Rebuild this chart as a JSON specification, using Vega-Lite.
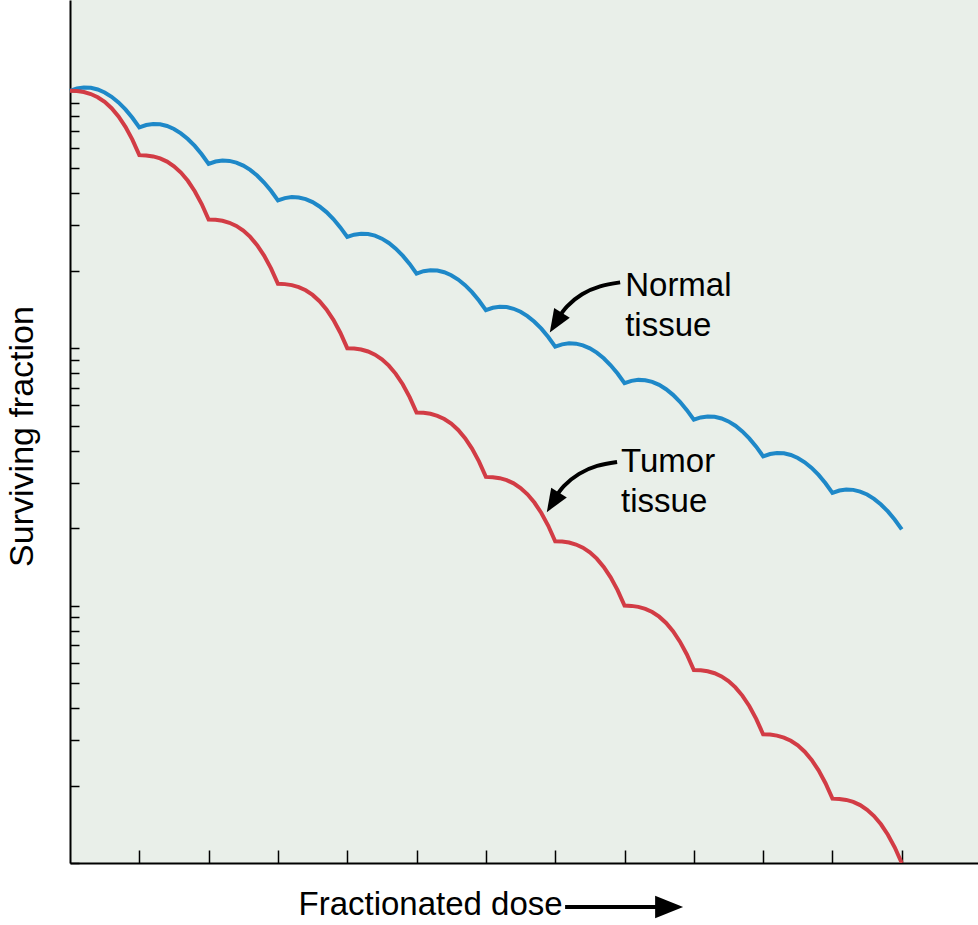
{
  "$schema": "https://vega.github.io/schema/vega-lite/v6.json",
  "width": 908,
  "height": 863,
  "autosize": {"type": "none"},
  "padding": {"left": 70, "top": 0, "right": 0, "bottom": 62},
  "background": "white",
  "config": {
    "view": {"fill": "#e9efe9", "stroke": null},
    "font": "Liberation Sans"
  },
  "datasets": {
    "normal": [
      {"dose":0,"log_sf":0},{"dose":0.1,"log_sf":0.009},{"dose":0.2,"log_sf":0.0129},{"dose":0.3,"log_sf":0.0116},{"dose":0.4,"log_sf":0.0051},{"dose":0.5,"log_sf":-0.0065},{"dose":0.6,"log_sf":-0.0233},{"dose":0.7,"log_sf":-0.0452},{"dose":0.8,"log_sf":-0.0723},{"dose":0.9,"log_sf":-0.1046},
      {"dose":1,"log_sf":-0.142},{"dose":1.1,"log_sf":-0.133},{"dose":1.2,"log_sf":-0.1291},{"dose":1.3,"log_sf":-0.1304},{"dose":1.4,"log_sf":-0.1369},{"dose":1.5,"log_sf":-0.1485},{"dose":1.6,"log_sf":-0.1653},{"dose":1.7,"log_sf":-0.1872},{"dose":1.8,"log_sf":-0.2143},{"dose":1.9,"log_sf":-0.2466},
      {"dose":2,"log_sf":-0.284},{"dose":2.1,"log_sf":-0.275},{"dose":2.2,"log_sf":-0.2711},{"dose":2.3,"log_sf":-0.2724},{"dose":2.4,"log_sf":-0.2789},{"dose":2.5,"log_sf":-0.2905},{"dose":2.6,"log_sf":-0.3073},{"dose":2.7,"log_sf":-0.3292},{"dose":2.8,"log_sf":-0.3563},{"dose":2.9,"log_sf":-0.3886},
      {"dose":3,"log_sf":-0.426},{"dose":3.1,"log_sf":-0.417},{"dose":3.2,"log_sf":-0.4131},{"dose":3.3,"log_sf":-0.4144},{"dose":3.4,"log_sf":-0.4209},{"dose":3.5,"log_sf":-0.4325},{"dose":3.6,"log_sf":-0.4493},{"dose":3.7,"log_sf":-0.4712},{"dose":3.8,"log_sf":-0.4983},{"dose":3.9,"log_sf":-0.5306},
      {"dose":4,"log_sf":-0.568},{"dose":4.1,"log_sf":-0.559},{"dose":4.2,"log_sf":-0.5551},{"dose":4.3,"log_sf":-0.5564},{"dose":4.4,"log_sf":-0.5629},{"dose":4.5,"log_sf":-0.5745},{"dose":4.6,"log_sf":-0.5913},{"dose":4.7,"log_sf":-0.6132},{"dose":4.8,"log_sf":-0.6403},{"dose":4.9,"log_sf":-0.6726},
      {"dose":5,"log_sf":-0.71},{"dose":5.1,"log_sf":-0.701},{"dose":5.2,"log_sf":-0.6971},{"dose":5.3,"log_sf":-0.6984},{"dose":5.4,"log_sf":-0.7049},{"dose":5.5,"log_sf":-0.7165},{"dose":5.6,"log_sf":-0.7333},{"dose":5.7,"log_sf":-0.7552},{"dose":5.8,"log_sf":-0.7823},{"dose":5.9,"log_sf":-0.8146},
      {"dose":6,"log_sf":-0.852},{"dose":6.1,"log_sf":-0.843},{"dose":6.2,"log_sf":-0.8391},{"dose":6.3,"log_sf":-0.8404},{"dose":6.4,"log_sf":-0.8469},{"dose":6.5,"log_sf":-0.8585},{"dose":6.6,"log_sf":-0.8753},{"dose":6.7,"log_sf":-0.8972},{"dose":6.8,"log_sf":-0.9243},{"dose":6.9,"log_sf":-0.9566},
      {"dose":7,"log_sf":-0.994},{"dose":7.1,"log_sf":-0.985},{"dose":7.2,"log_sf":-0.9811},{"dose":7.3,"log_sf":-0.9824},{"dose":7.4,"log_sf":-0.9889},{"dose":7.5,"log_sf":-1.0005},{"dose":7.6,"log_sf":-1.0173},{"dose":7.7,"log_sf":-1.0392},{"dose":7.8,"log_sf":-1.0663},{"dose":7.9,"log_sf":-1.0986},
      {"dose":8,"log_sf":-1.136},{"dose":8.1,"log_sf":-1.127},{"dose":8.2,"log_sf":-1.1231},{"dose":8.3,"log_sf":-1.1244},{"dose":8.4,"log_sf":-1.1309},{"dose":8.5,"log_sf":-1.1425},{"dose":8.6,"log_sf":-1.1593},{"dose":8.7,"log_sf":-1.1812},{"dose":8.8,"log_sf":-1.2083},{"dose":8.9,"log_sf":-1.2406},
      {"dose":9,"log_sf":-1.278},{"dose":9.1,"log_sf":-1.269},{"dose":9.2,"log_sf":-1.2651},{"dose":9.3,"log_sf":-1.2664},{"dose":9.4,"log_sf":-1.2729},{"dose":9.5,"log_sf":-1.2845},{"dose":9.6,"log_sf":-1.3013},{"dose":9.7,"log_sf":-1.3232},{"dose":9.8,"log_sf":-1.3503},{"dose":9.9,"log_sf":-1.3826},
      {"dose":10,"log_sf":-1.42},{"dose":10.1,"log_sf":-1.411},{"dose":10.2,"log_sf":-1.4071},{"dose":10.3,"log_sf":-1.4084},{"dose":10.4,"log_sf":-1.4149},{"dose":10.5,"log_sf":-1.4265},{"dose":10.6,"log_sf":-1.4433},{"dose":10.7,"log_sf":-1.4652},{"dose":10.8,"log_sf":-1.4923},{"dose":10.9,"log_sf":-1.5246},
      {"dose":11,"log_sf":-1.562},{"dose":11.1,"log_sf":-1.553},{"dose":11.2,"log_sf":-1.5491},{"dose":11.3,"log_sf":-1.5504},{"dose":11.4,"log_sf":-1.5569},{"dose":11.5,"log_sf":-1.5685},{"dose":11.6,"log_sf":-1.5853},{"dose":11.7,"log_sf":-1.6072},{"dose":11.8,"log_sf":-1.6343},{"dose":11.9,"log_sf":-1.6666},
      {"dose":12,"log_sf":-1.704}
    ],
    "tumor": [
      {"dose":0,"log_sf":0},{"dose":0.1,"log_sf":-0.0011},{"dose":0.2,"log_sf":-0.005},{"dose":0.3,"log_sf":-0.0127},{"dose":0.4,"log_sf":-0.0251},{"dose":0.5,"log_sf":-0.0431},{"dose":0.6,"log_sf":-0.0676},{"dose":0.7,"log_sf":-0.0996},{"dose":0.8,"log_sf":-0.1401},{"dose":0.9,"log_sf":-0.1899},
      {"dose":1,"log_sf":-0.25},{"dose":1.1,"log_sf":-0.2511},{"dose":1.2,"log_sf":-0.255},{"dose":1.3,"log_sf":-0.2627},{"dose":1.4,"log_sf":-0.2751},{"dose":1.5,"log_sf":-0.2931},{"dose":1.6,"log_sf":-0.3176},{"dose":1.7,"log_sf":-0.3496},{"dose":1.8,"log_sf":-0.3901},{"dose":1.9,"log_sf":-0.4399},
      {"dose":2,"log_sf":-0.5},{"dose":2.1,"log_sf":-0.5011},{"dose":2.2,"log_sf":-0.505},{"dose":2.3,"log_sf":-0.5127},{"dose":2.4,"log_sf":-0.5251},{"dose":2.5,"log_sf":-0.5431},{"dose":2.6,"log_sf":-0.5676},{"dose":2.7,"log_sf":-0.5996},{"dose":2.8,"log_sf":-0.6401},{"dose":2.9,"log_sf":-0.6899},
      {"dose":3,"log_sf":-0.75},{"dose":3.1,"log_sf":-0.7511},{"dose":3.2,"log_sf":-0.755},{"dose":3.3,"log_sf":-0.7627},{"dose":3.4,"log_sf":-0.7751},{"dose":3.5,"log_sf":-0.7931},{"dose":3.6,"log_sf":-0.8176},{"dose":3.7,"log_sf":-0.8496},{"dose":3.8,"log_sf":-0.8901},{"dose":3.9,"log_sf":-0.9399},
      {"dose":4,"log_sf":-1},{"dose":4.1,"log_sf":-1.0011},{"dose":4.2,"log_sf":-1.005},{"dose":4.3,"log_sf":-1.0127},{"dose":4.4,"log_sf":-1.0251},{"dose":4.5,"log_sf":-1.0431},{"dose":4.6,"log_sf":-1.0676},{"dose":4.7,"log_sf":-1.0996},{"dose":4.8,"log_sf":-1.1401},{"dose":4.9,"log_sf":-1.1899},
      {"dose":5,"log_sf":-1.25},{"dose":5.1,"log_sf":-1.2511},{"dose":5.2,"log_sf":-1.255},{"dose":5.3,"log_sf":-1.2627},{"dose":5.4,"log_sf":-1.2751},{"dose":5.5,"log_sf":-1.2931},{"dose":5.6,"log_sf":-1.3176},{"dose":5.7,"log_sf":-1.3496},{"dose":5.8,"log_sf":-1.3901},{"dose":5.9,"log_sf":-1.4399},
      {"dose":6,"log_sf":-1.5},{"dose":6.1,"log_sf":-1.5011},{"dose":6.2,"log_sf":-1.505},{"dose":6.3,"log_sf":-1.5127},{"dose":6.4,"log_sf":-1.5251},{"dose":6.5,"log_sf":-1.5431},{"dose":6.6,"log_sf":-1.5676},{"dose":6.7,"log_sf":-1.5996},{"dose":6.8,"log_sf":-1.6401},{"dose":6.9,"log_sf":-1.6899},
      {"dose":7,"log_sf":-1.75},{"dose":7.1,"log_sf":-1.7511},{"dose":7.2,"log_sf":-1.755},{"dose":7.3,"log_sf":-1.7627},{"dose":7.4,"log_sf":-1.7751},{"dose":7.5,"log_sf":-1.7931},{"dose":7.6,"log_sf":-1.8176},{"dose":7.7,"log_sf":-1.8496},{"dose":7.8,"log_sf":-1.8901},{"dose":7.9,"log_sf":-1.9399},
      {"dose":8,"log_sf":-2},{"dose":8.1,"log_sf":-2.0011},{"dose":8.2,"log_sf":-2.005},{"dose":8.3,"log_sf":-2.0127},{"dose":8.4,"log_sf":-2.0251},{"dose":8.5,"log_sf":-2.0431},{"dose":8.6,"log_sf":-2.0676},{"dose":8.7,"log_sf":-2.0996},{"dose":8.8,"log_sf":-2.1401},{"dose":8.9,"log_sf":-2.1899},
      {"dose":9,"log_sf":-2.25},{"dose":9.1,"log_sf":-2.2511},{"dose":9.2,"log_sf":-2.255},{"dose":9.3,"log_sf":-2.2627},{"dose":9.4,"log_sf":-2.2751},{"dose":9.5,"log_sf":-2.2931},{"dose":9.6,"log_sf":-2.3176},{"dose":9.7,"log_sf":-2.3496},{"dose":9.8,"log_sf":-2.3901},{"dose":9.9,"log_sf":-2.4399},
      {"dose":10,"log_sf":-2.5},{"dose":10.1,"log_sf":-2.5011},{"dose":10.2,"log_sf":-2.505},{"dose":10.3,"log_sf":-2.5127},{"dose":10.4,"log_sf":-2.5251},{"dose":10.5,"log_sf":-2.5431},{"dose":10.6,"log_sf":-2.5676},{"dose":10.7,"log_sf":-2.5996},{"dose":10.8,"log_sf":-2.6401},{"dose":10.9,"log_sf":-2.6899},
      {"dose":11,"log_sf":-2.75},{"dose":11.1,"log_sf":-2.7511},{"dose":11.2,"log_sf":-2.755},{"dose":11.3,"log_sf":-2.7627},{"dose":11.4,"log_sf":-2.7751},{"dose":11.5,"log_sf":-2.7931},{"dose":11.6,"log_sf":-2.8176},{"dose":11.7,"log_sf":-2.8496},{"dose":11.8,"log_sf":-2.8901},{"dose":11.9,"log_sf":-2.9399},
      {"dose":12,"log_sf":-3}
    ],
    "arrows": [
      {"arrow":"normal","i":0,"dose":7.937,"log_sf":-0.7442},
      {"arrow":"normal","i":1,"dose":7.648,"log_sf":-0.7597},
      {"arrow":"normal","i":2,"dose":7.388,"log_sf":-0.7907},
      {"arrow":"normal","i":3,"dose":7.172,"log_sf":-0.8372},
      {"arrow":"normal","i":4,"dose":7.042,"log_sf":-0.8837},
      {"arrow":"tumor","i":0,"dose":7.893,"log_sf":-1.4419},
      {"arrow":"tumor","i":1,"dose":7.605,"log_sf":-1.4574},
      {"arrow":"tumor","i":2,"dose":7.345,"log_sf":-1.4884},
      {"arrow":"tumor","i":3,"dose":7.128,"log_sf":-1.5349},
      {"arrow":"tumor","i":4,"dose":6.999,"log_sf":-1.5814}
    ],
    "heads": [
      {"arrow":"normal","dose":7.01,"log_sf":-0.901},
      {"arrow":"tumor","dose":6.967,"log_sf":-1.599}
    ],
    "labels": [
      {"label":"Normal","dose":8.01,"log_sf":-0.7984},
      {"label":"tissue","dose":8.01,"log_sf":-0.9535},
      {"label":"Tumor","dose":7.95,"log_sf":-1.4806},
      {"label":"tissue","dose":7.95,"log_sf":-1.6357}
    ],
    "doseArrow": [
      {"dose":7.143,"dose2":8.5,"log_sf":-3.171}
    ],
    "doseHead": [
      {"dose":8.644,"log_sf":-3.171}
    ]
  },
  "encoding": {
    "x": {
      "field": "dose",
      "type": "quantitative",
      "scale": {"domain": [0, 13.1], "nice": false, "zero": false},
      "axis": {
        "title": "Fractionated dose",
        "values": [1,2,3,4,5,6,7,8,9,10,11,12],
        "labels": false,
        "grid": false,
        "domainColor": "#000000",
        "domainWidth": 2,
        "tickColor": "#000000",
        "tickWidth": 1.5,
        "tickSize": -13,
        "titleFont": "Liberation Sans",
        "titleFontSize": 33,
        "titleFontWeight": "normal",
        "titleColor": "#000000",
        "titleAnchor": "start",
        "titleAlign": "left",
        "titleBaseline": "alphabetic",
        "titleX": 228,
        "titleY": 51
      }
    },
    "y": {
      "field": "log_sf",
      "type": "quantitative",
      "scale": {"domain": [-3, 0.3527], "nice": false, "zero": false},
      "axis": {
        "title": "Surviving fraction",
        "values": [0,-0.046,-0.097,-0.155,-0.222,-0.301,-0.398,-0.523,-0.699,-1,-1.046,-1.097,-1.155,-1.222,-1.301,-1.398,-1.523,-1.699,-2,-2.046,-2.097,-2.155,-2.222,-2.301,-2.398,-2.523,-2.699,-3],
        "labels": false,
        "grid": false,
        "domainColor": "#000000",
        "domainWidth": 2,
        "tickColor": "#000000",
        "tickWidth": 1.5,
        "tickSize": -9,
        "titleFont": "Liberation Sans",
        "titleFontSize": 34,
        "titleFontWeight": "normal",
        "titleColor": "#000000",
        "titleAngle": -90,
        "titleAlign": "center",
        "titleBaseline": "alphabetic",
        "titleX": -38,
        "titleY": 436
      }
    }
  },
  "layer": [
    {
      "data": {"name": "normal"},
      "mark": {"type": "line", "color": "#1e88c8", "strokeWidth": 4, "strokeJoin": "miter"}
    },
    {
      "data": {"name": "tumor"},
      "mark": {"type": "line", "color": "#d23c45", "strokeWidth": 4, "strokeJoin": "miter", "clip": true}
    },
    {
      "data": {"name": "arrows"},
      "mark": {"type": "line", "color": "#000000", "strokeWidth": 4, "interpolate": "natural"},
      "encoding": {
        "detail": {"field": "arrow"},
        "order": {"field": "i", "type": "quantitative"}
      }
    },
    {
      "data": {"name": "heads"},
      "mark": {"type": "point", "shape": "M0,-1L0.8,1L-0.8,1Z", "filled": true, "color": "#000000", "opacity": 1, "size": 529, "angle": 212, "strokeWidth": 0}
    },
    {
      "data": {"name": "labels"},
      "mark": {"type": "text", "align": "left", "baseline": "alphabetic", "font": "Liberation Sans", "fontSize": 33, "color": "#000000"},
      "encoding": {"text": {"field": "label"}}
    },
    {
      "data": {"name": "doseArrow"},
      "mark": {"type": "rule", "color": "#000000", "strokeWidth": 4},
      "encoding": {"x2": {"field": "dose2"}}
    },
    {
      "data": {"name": "doseHead"},
      "mark": {"type": "point", "shape": "M0,-1L0.8,1L-0.8,1Z", "filled": true, "color": "#000000", "opacity": 1, "size": 784, "angle": 90, "strokeWidth": 0}
    }
  ]
}
